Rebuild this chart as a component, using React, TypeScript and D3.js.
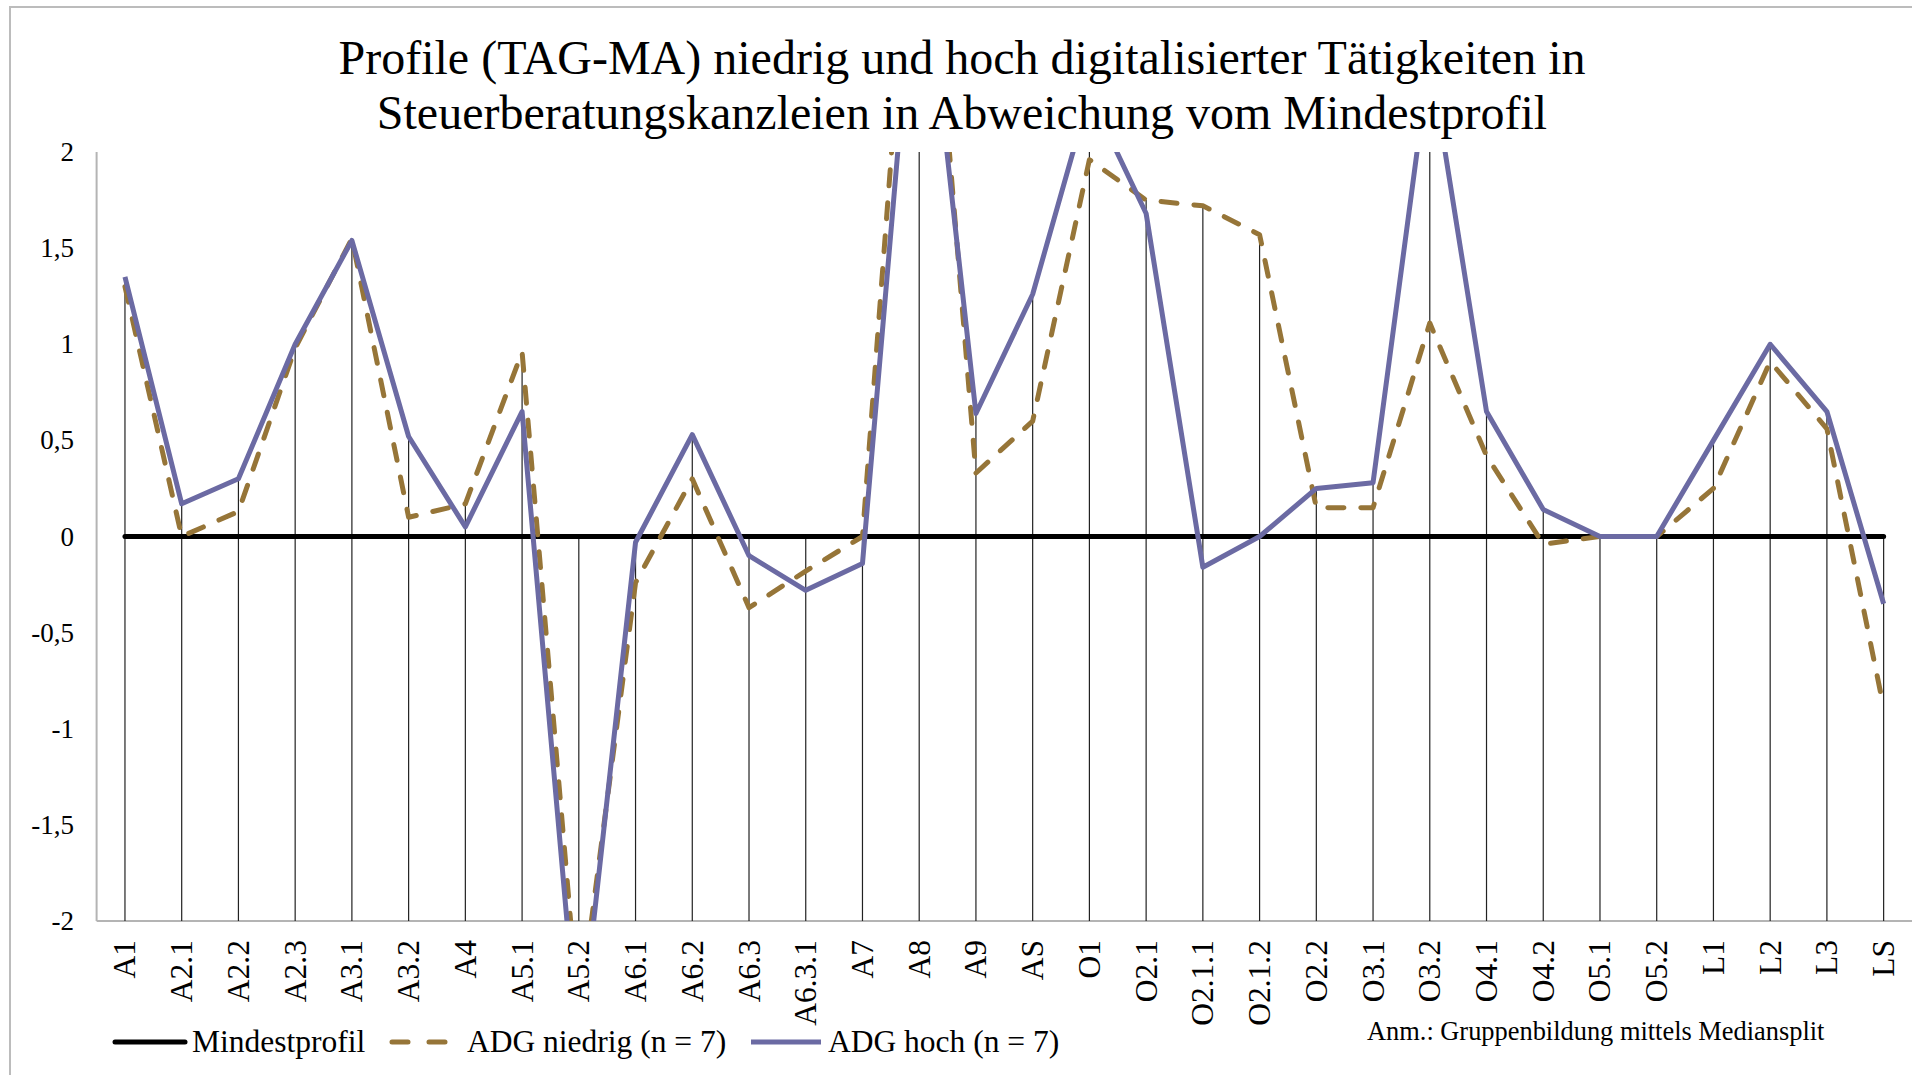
import * as d3 from 'd3';

const categories = [
  'A1', 'A2.1', 'A2.2', 'A2.3', 'A3.1', 'A3.2', 'A4', 'A5.1', 'A5.2', 'A6.1', 'A6.2',
  'A6.3', 'A6.3.1', 'A7', 'A8', 'A9', 'AS', 'O1', 'O2.1', 'O2.1.1', 'O2.1.2', 'O2.2',
  'O3.1', 'O3.2', 'O4.1', 'O4.2', 'O5.1', 'O5.2', 'L1', 'L2', 'L3', 'LS',
];

const mindestprofil = [
  0, 0, 0, 0, 0, 0, 0, 0, 0, 0, 0, 0, 0, 0, 0, 0,
  0, 0, 0, 0, 0, 0, 0, 0, 0, 0, 0, 0, 0, 0, 0, 0,
];

const adgNiedrig = [
  1.3, 0.0, 0.13, 0.98, 1.55, 0.1, 0.17, 0.96, -2.5, -0.24, 0.3, -0.37, -0.18, 0.0, 3.9, 0.33,
  0.6, 1.96, 1.75, 1.72, 1.57, 0.15, 0.15, 1.11, 0.42, -0.04, 0.0, 0.0, 0.25, 0.91, 0.56, -0.89,
];

const adgHoch = [
  1.35, 0.17, 0.3, 1.0, 1.54, 0.52, 0.05, 0.65, -2.7, -0.03, 0.53, -0.1, -0.28, -0.14, 3.3, 0.64,
  1.26, 2.3, 1.68, -0.16, 0.0, 0.25, 0.28, 2.5, 0.65, 0.14, 0.0, 0.0, 0.5, 1.0, 0.65, -0.35,
];

const yTicks = [2, 1.5, 1, 0.5, 0, -0.5, -1, -1.5, -2];

const titleLines = [
  'Profile (TAG-MA) niedrig und hoch digitalisierter Tätigkeiten in',
  'Steuerberatungskanzleien in Abweichung vom Mindestprofil',
];

const W = 1912;
const H = 1075;
const left = 96.6;
const right = 1912;
const top = 152;
const bottom = 921;
const font = '"Liberation Serif", "Times New Roman", serif';
const blue = '#6b6aa3';
const brown = '#967538';

const App = () => {
  const x = d3.scaleBand<string>().domain(categories).range([left, right]);
  const cx = (c: string) => (x(c) ?? 0) + x.bandwidth() / 2;
  const y = d3.scaleLinear().domain([-2, 2]).range([bottom, top]);

  const line = d3
    .line<number>()
    .x((_, i) => cx(categories[i]))
    .y((d) => y(d));

  const fmt = (v: number) => String(v).replace('.', ',');

  return (
    <svg
      width={W}
      height={H}
      style={{ position: 'absolute', left: 0, top: 0, background: '#fff' }}
      fontFamily={font}
    >
      <defs>
        <clipPath id='plot'>
          <rect x={left} y={top} width={right - left} height={bottom - top} />
        </clipPath>
      </defs>
      <rect x={10} y={7} width={W} height={H} fill='#fff' stroke='#bcbcbc' strokeWidth={2} />

      {/* title */}
      {titleLines.map((t, i) => (
        <text key={i} x={962} y={74 + i * 54.5} textAnchor='middle' fontSize={48} fill='#000'>
          {t}
        </text>
      ))}

      {/* axes */}
      <line x1={left} x2={left} y1={top} y2={bottom} stroke='#b4b4b4' strokeWidth={2} />
      <line x1={left} x2={right} y1={bottom} y2={bottom} stroke='#b4b4b4' strokeWidth={2} />

      {yTicks.map((t) => (
        <text key={t} x={74} y={y(t)} textAnchor='end' dominantBaseline='central' fontSize={27}>
          {fmt(t)}
        </text>
      ))}

      {categories.map((c) => (
        <text
          key={c}
          transform={`translate(${cx(c)},940) rotate(-90)`}
          textAnchor='end'
          dominantBaseline='central'
          fontSize={31.5}
        >
          {c}
        </text>
      ))}

      <g clipPath='url(#plot)'>
        {/* drop lines */}
        {categories.map((c, i) => {
          const m = Math.max(mindestprofil[i], adgNiedrig[i], adgHoch[i]);
          return (
            <line key={c} x1={cx(c)} x2={cx(c)} y1={y(m)} y2={bottom} stroke='#222' strokeWidth={1.2} />
          );
        })}
        <path d={line(mindestprofil) ?? ''} fill='none' stroke='#000' strokeWidth={5} strokeLinecap='round' />
        <path
          d={line(adgNiedrig) ?? ''}
          fill='none'
          stroke={brown}
          strokeWidth={5}
          strokeDasharray='16 17'
          strokeLinecap='round'
          strokeLinejoin='round'
        />
        <path d={line(adgHoch) ?? ''} fill='none' stroke={blue} strokeWidth={5} strokeLinejoin='round' />
      </g>

      {/* legend */}
      <line x1={115} x2={185} y1={1042} y2={1042} stroke='#000' strokeWidth={5} strokeLinecap='round' />
      <text x={192} y={1051.5} fontSize={31.5}>Mindestprofil</text>
      <line
        x1={392}
        x2={448}
        y1={1042}
        y2={1042}
        stroke={brown}
        strokeWidth={5}
        strokeDasharray='16 21'
        strokeLinecap='round'
      />
      <text x={467} y={1051.5} fontSize={31.5}>ADG niedrig (n = 7)</text>
      <line x1={751} x2={821} y1={1042} y2={1042} stroke={blue} strokeWidth={5} />
      <text x={828} y={1051.5} fontSize={31.5}>ADG hoch (n = 7)</text>

      <text x={1367} y={1040} fontSize={26.4}>Anm.: Gruppenbildung mittels Mediansplit</text>
    </svg>
  );
};

export default App;
